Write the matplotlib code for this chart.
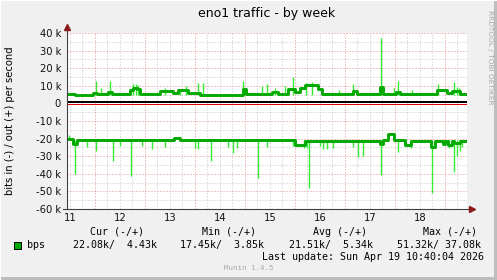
import numpy as np
import matplotlib
matplotlib.use("Agg")
import matplotlib.pyplot as plt
from matplotlib.patches import Rectangle

# out (+) traffic, bits/s in k: baseline steps
out_days = [11.44, 11.50, 11.60, 11.96, 12.04, 12.26, 12.34, 12.70, 12.76, 12.84, 12.90,
            13.30, 13.56, 13.66, 13.86, 14.10, 14.96, 15.02, 15.40, 15.54, 15.66, 15.86,
            16.00, 16.10, 16.20, 16.46, 16.54, 16.80, 17.16, 17.24, 17.70, 17.76, 18.02,
            18.10, 18.50, 18.84, 19.04, 19.14, 19.30, 19.44]
out_base = [5.6, 5.2, 4.9, 6.0, 5.2, 6.3, 5.2, 7.5, 9.0, 8.0, 5.4,
            6.8, 5.9, 7.5, 5.9, 5.0, 8.0, 5.4, 5.3, 6.5, 5.6, 8.3,
            6.5, 9.0, 10.6, 8.0, 5.5, 5.2, 7.0, 5.5, 9.5, 5.6, 6.5,
            5.3, 5.6, 7.8, 6.0, 6.8, 5.4, 5.4]

# out spikes: day, peak (k)
out_spike_day = [12.02, 12.12, 12.30, 12.76, 12.82, 12.86, 13.40, 13.70, 13.82, 14.06,
                 14.16, 14.96, 15.34, 15.44, 15.60, 15.80, 15.96, 16.22, 16.34, 16.88,
                 17.16, 17.72, 17.98, 18.06, 18.34, 18.86, 19.18, 19.24, 19.28]
out_spike_val = [12.5, 8.7, 12.7, 11.3, 11.0, 10.5, 8.9, 8.4, 10.0, 11.5,
                 11.5, 13.0, 10.0, 11.0, 8.5, 10.0, 15.0, 11.8, 12.0, 7.5,
                 11.3, 37.0, 8.5, 12.5, 7.5, 11.0, 12.0, 9.5, 8.5]

# in (-) traffic, bits/s in k: baseline steps
in_days = [11.44, 11.56, 11.64, 12.50, 13.58, 13.70, 14.00, 15.00, 16.00, 16.20, 16.40,
           17.70, 17.76, 17.86, 17.98, 18.20, 18.32, 18.72, 18.80, 18.96, 19.00, 19.06,
           19.14, 19.18, 19.30, 19.44]
in_base = [-20.5, -23.0, -20.8, -21.0, -19.6, -21.0, -20.7, -21.0, -23.5, -21.5, -21.2,
           -23.0, -21.0, -17.5, -21.0, -23.5, -21.5, -24.5, -21.5, -23.0, -21.5, -23.5,
           -21.5, -22.5, -21.5, -21.5]

# in spikes: day, peak (k)
in_spike_day = [11.48, 11.60, 11.84, 12.02, 12.36, 12.50, 12.72, 12.94, 13.14, 13.40,
                14.00, 14.06, 14.32, 14.66, 14.76, 14.84, 15.26, 15.44, 15.96, 16.18,
                16.24, 16.28, 16.50, 16.56, 16.64, 16.76, 17.16, 17.26, 17.36, 17.72,
                18.06, 18.32, 18.74, 19.08, 19.18, 19.24, 19.30, 19.34]
in_spike_val = [-18.0, -40.0, -25.0, -27.0, -32.7, -24.0, -41.0, -24.0, -26.0, -25.0,
                -25.5, -26.0, -33.0, -25.0, -28.0, -25.5, -42.6, -25.0, -24.0, -25.5,
                -25.5, -47.8, -24.0, -26.0, -26.0, -25.5, -25.0, -30.5, -30.0, -40.5,
                -27.5, -25.5, -50.7, -25.5, -38.9, -30.0, -27.0, -25.0]

y_ticks = [-60, -50, -40, -30, -20, -10, 0, 10, 20, 30, 40]
y_labels = ['-60 k', '-50 k', '-40 k', '-30 k', '-20 k', '-10 k', '0', '10 k', '20 k', '30 k', '40 k']
x_ticks = [11.5, 12.5, 13.5, 14.5, 15.5, 16.5, 17.5, 18.5]
x_labels = ['11', '12', '13', '14', '15', '16', '17', '18']

legend_heads = ['Cur (-/+)', 'Min (-/+)', 'Avg (-/+)', 'Max (-/+)']
legend_vals = ['22.08k/  4.43k', '17.45k/  3.85k', '21.51k/  5.34k', '51.32k/ 37.08k']

W, H = 497, 280
fig = plt.figure(figsize=(W / 100, H / 100), dpi=100)
fig.patch.set_facecolor('#f0f0f0')

def fx(px):
    return px / W

def fy(py):
    return 1 - py / H

ax = fig.add_axes([fx(67), fy(209), 400 / W, 176 / H])
ax.set_facecolor('white')
ax.set_xlim(11.444, 19.444)
ax.set_ylim(-60, 40)
for s in ax.spines.values():
    s.set_visible(False)

# grid, rrdtool style dots
dots = (0, (1, 2))
for v in np.arange(-55, 40.1, 5):
    if v == 0:
        continue
    col = '#e88e8e' if v % 10 == 0 else '#c4c4c4'
    ax.axhline(v, color=col, lw=0.72, ls=dots, zorder=1)
for d in np.arange(11.5, 19.3, 0.25):
    col = '#e88e8e' if d % 1 == 0 else '#c4c4c4'
    ax.axvline(d, color=col, lw=0.72, ls=dots, zorder=1)

# data
ax.vlines(out_spike_day, 5.0, out_spike_val, color='#33ee33', lw=1.0, zorder=2)
ax.vlines(in_spike_day, -21.0, in_spike_val, color='#33ee33', lw=1.0, zorder=2)
ax.step(out_days, out_base, where='post', color='#00a800', lw=2.1, zorder=3)
ax.step(in_days, in_base, where='post', color='#00a800', lw=2.1, zorder=3)

# zero lines
ax.axhline(0.65, color='black', lw=1.45, zorder=4)
ax.axhline(-0.1, color='#dd0000', lw=0.72, zorder=4)

# axes with arrows
ax.plot([0, 0], [0, 1.02], transform=ax.transAxes, color='#404040', lw=0.8,
        clip_on=False, zorder=5)
ax.plot([0], [1.035], transform=ax.transAxes, marker='^', ms=4, color='#8b1a1a',
        clip_on=False, zorder=5)
ax.plot([-0.01, 1.005], [0, 0], transform=ax.transAxes, color='#404040', lw=0.8,
        clip_on=False, zorder=5)
ax.plot([1.012], [0], transform=ax.transAxes, marker='>', ms=4, color='#8b1a1a',
        clip_on=False, zorder=5)

ax.set_yticks(y_ticks)
ax.set_yticklabels(y_labels)
ax.set_xticks(x_ticks)
ax.set_xticklabels(x_labels)
ax.tick_params(axis='y', length=0, pad=4.3, labelsize=7.2, labelcolor='#111111')
ax.tick_params(axis='x', length=0, pad=3.0, labelsize=7.2, labelcolor='#111111')

# texts
fig.text(fx(267), fy(14), 'eno1 traffic - by week', ha='center', va='center', fontsize=9)
fig.text(fx(10), fy(121), 'bits in (-) / out (+) per second', rotation=90,
         ha='center', va='center', fontsize=7.2)
fig.text(fx(490), fy(57), 'RRDTOOL / TOBI OETIKER', rotation=-90, ha='center',
         va='center', fontsize=5.3, color='#a8a8a8')

mono = 'DejaVu Sans Mono'
for xh, t in zip([89.5, 201.7, 312.7, 423.3], legend_heads):
    fig.text(fx(xh), fy(232), t, ha='left', va='center', fontsize=7.2, family=mono)
for xv, t in zip([72.7, 180.0, 289.3, 397.3], legend_vals):
    fig.text(fx(xv), fy(245), t, ha='left', va='center', fontsize=7.2, family=mono)
fig.add_artist(Rectangle((fx(13.5), fy(249)), 7 / W, 7 / H, transform=fig.transFigure,
                         facecolor='#00aa00', edgecolor='black', lw=0.7))
fig.text(fx(26.7), fy(245), 'bps', ha='left', va='center', fontsize=7.2, family=mono)
fig.text(fx(483.5), fy(257), 'Last update: Sun Apr 19 10:40:04 2026', ha='right',
         va='center', fontsize=7.2, family=mono)
fig.text(fx(248.5), fy(268.5), 'Munin 1.4.5', ha='center', va='center', fontsize=5.3,
         family=mono, color='#aaaaaa')

# frame
fig.add_artist(Rectangle((fx(494), 0), 3 / W, 1, transform=fig.transFigure,
                         facecolor='#bdbdbd', edgecolor='none'))
fig.add_artist(Rectangle((0, 0), 1, 3 / H, transform=fig.transFigure,
                         facecolor='#bdbdbd', edgecolor='none'))
fig.add_artist(Rectangle((0, 0), 1 / W, 1, transform=fig.transFigure,
                         facecolor='#ffffff', edgecolor='none'))
fig.add_artist(Rectangle((0, 1 - 1 / H), 1, 1 / H, transform=fig.transFigure,
                         facecolor='#ffffff', edgecolor='none'))

fig.savefig('out.png', dpi=100, facecolor=fig.get_facecolor())
